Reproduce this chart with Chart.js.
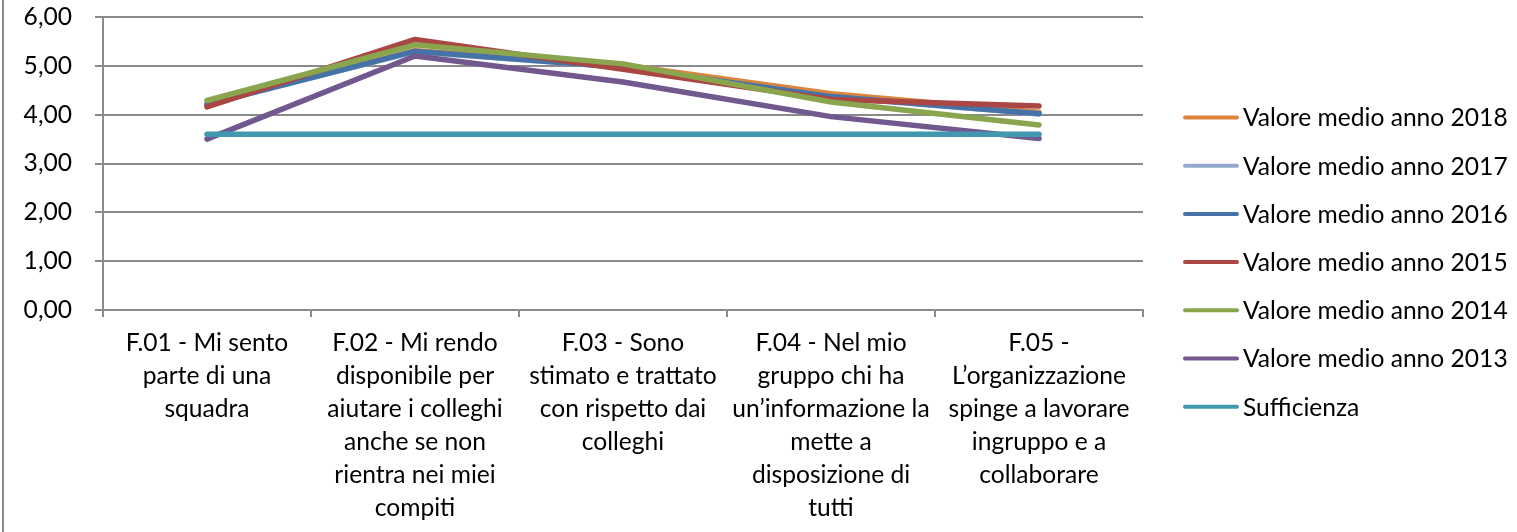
<!DOCTYPE html>
<html>
<head>
<meta charset="utf-8">
<script src="https://cdn.jsdelivr.net/npm/chart.js@4.4.1/dist/chart.umd.min.js"></script>
<style>
  html, body { margin: 0; padding: 0; background: #fff; }
  #wrap { position: relative; width: 1517px; height: 532px; }
</style>
</head>
<body>
<div id="wrap"><canvas id="c" width="1517" height="532"></canvas></div>
<script>
const categories = [
  ['F.01 - Mi sento', 'parte di una', 'squadra'],
  ['F.02 - Mi rendo', 'disponibile per', 'aiutare i colleghi', 'anche se non', 'rientra nei miei', 'compiti'],
  ['F.03 - Sono', 'stimato e trattato', 'con rispetto dai', 'colleghi'],
  ['F.04 - Nel mio', 'gruppo chi ha', 'un\u2019informazione la', 'mette a', 'disposizione di', 'tutti'],
  ['F.05 -', 'L\u2019organizzazione', 'spinge a lavorare', 'ingruppo e a', 'collaborare']
];
const seriesNames = [
  'Valore medio anno 2018',
  'Valore medio anno 2017',
  'Valore medio anno 2016',
  'Valore medio anno 2015',
  'Valore medio anno 2014',
  'Valore medio anno 2013',
  'Sufficienza'
];
const values2018 = [4.22, 5.31, 5.02, 4.43, 4.05];
const values2017 = [4.21, 5.29, 4.97, 4.36, 4.02];
const values2016 = [4.21, 5.30, 4.97, 4.37, 4.02];
const values2015 = [4.16, 5.54, 4.93, 4.31, 4.18];
const values2014 = [4.29, 5.43, 5.04, 4.26, 3.79];
const values2013 = [3.50, 5.20, 4.67, 3.96, 3.51];
const sufficienza = [3.60, 3.60, 3.60, 3.60, 3.60];
const yTickLabels = ['0,00', '1,00', '2,00', '3,00', '4,00', '5,00', '6,00'];

const seriesValues = [values2018, values2017, values2016, values2015, values2014, values2013, sufficienza];
const seriesColors = ['#DB843D', '#93A9CF', '#4572A7', '#AA4643', '#89A54E', '#71588F', '#4198AF'];

const FAMILY = 'Lato, "Open Sans", sans-serif';
const mctx = document.createElement('canvas').getContext('2d');
mctx.font = '100px ' + FAMILY;
const FS = Math.round(100 * 265 / mctx.measureText('Valore medio anno 2018').width * 10) / 10;

const GRID = '#8a8a8a';

const datasets = seriesNames.map((name, i) => ({
  label: name,
  data: seriesValues[i],
  borderColor: seriesColors[i],
  backgroundColor: seriesColors[i],
  borderWidth: 5.5,
  borderCapStyle: 'round',
  borderJoinStyle: 'round',
  pointRadius: 0,
  pointHoverRadius: 0,
  tension: 0,
  fill: false,
  order: seriesNames.length - 1 - i
}));

const legendPlugin = {
  id: 'sideLegend',
  afterDraw(chart) {
    const c = chart.ctx;
    c.save();
    chart.data.datasets.forEach((ds, i) => {
      const y = 117.5 + i * 48.2;
      c.strokeStyle = ds.borderColor;
      c.lineWidth = 4;
      c.lineCap = 'round';
      c.beginPath();
      c.moveTo(1185, y);
      c.lineTo(1237, y);
      c.stroke();
      c.fillStyle = '#000';
      c.font = FS + 'px ' + FAMILY;
      c.textBaseline = 'middle';
      c.textAlign = 'left';
      c.fillText(ds.label, 1243, y + 1);
    });
    c.restore();
  }
};

const framePlugin = {
  id: 'frame',
  beforeDraw(chart) {
    const c = chart.ctx;
    c.save();
    c.fillStyle = '#fff';
    c.fillRect(0, 0, chart.width, chart.height);
    c.strokeStyle = GRID;
    c.lineWidth = 2;
    c.beginPath();
    c.moveTo(3, 0);
    c.lineTo(3, chart.height);
    c.stroke();
    c.restore();
  }
};

new Chart(document.getElementById('c'), {
  type: 'line',
  data: { labels: categories, datasets },
  options: {
    responsive: false,
    animation: false,
    events: [],
    layout: { padding: { top: 17, right: 374, left: 0, bottom: 0 } },
    plugins: { legend: { display: false }, tooltip: { enabled: false } },
    scales: {
      x: {
        type: 'category',
        offset: true,
        afterFit(scale) { scale.height = 222; },
        grid: { drawOnChartArea: false, offset: true, color: GRID, lineWidth: 2, tickLength: 7, tickColor: GRID },
        border: { color: GRID, width: 2 },
        ticks: {
          color: '#000',
          font: { family: FAMILY, size: FS, lineHeight: 33 / FS },
          padding: 10,
          maxRotation: 0,
          minRotation: 0,
          autoSkip: false
        }
      },
      y: {
        min: 0,
        max: 6,
        afterFit(scale) { scale.width = 103; scale.paddingTop = 0; scale.paddingBottom = 0; },
        grid: { color: GRID, lineWidth: 2, tickLength: 8, tickColor: GRID },
        border: { color: GRID, width: 2 },
        ticks: {
          stepSize: 1,
          color: '#000',
          padding: 23,
          font: { family: FAMILY, size: FS },
          callback: (v) => yTickLabels[Math.round(v)]
        }
      }
    }
  },
  plugins: [framePlugin, legendPlugin]
});
</script>
</body>
</html>
